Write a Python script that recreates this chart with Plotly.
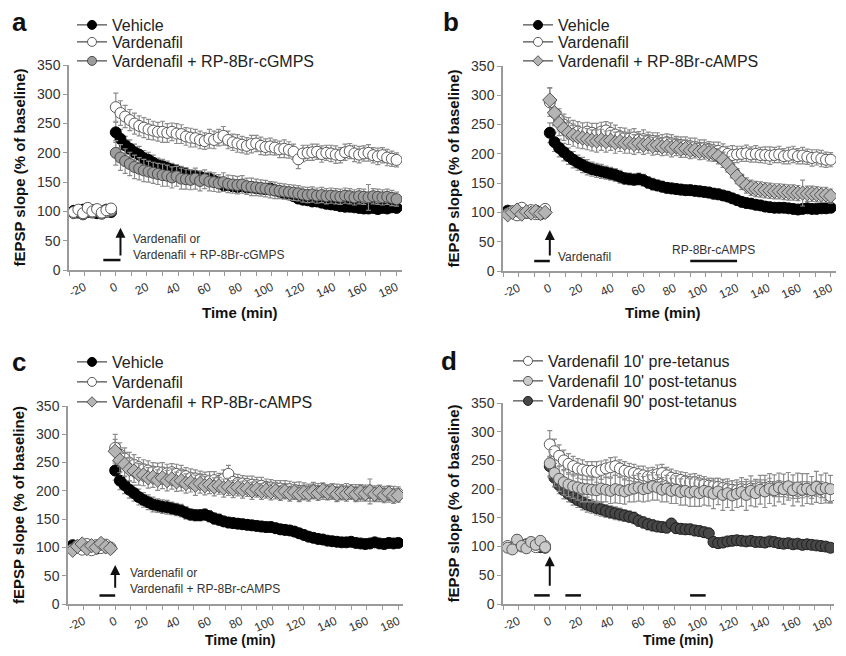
import plotly.graph_objects as go

# ---------------- data ----------------
# time points (min): 9 baseline samples, then every 3 min after tetanus
T = list(range(-27, 0, 3)) + list(range(0, 181, 3))
X_TICKS = list(range(-30, 181, 10))
X_LABELS = ["" if v % 20 else str(v) for v in X_TICKS]
Y_TICKS = [0, 50, 100, 150, 200, 250, 300, 350]

# Panel a
A_vehicle = [101, 98, 103, 99, 102, 97, 100, 103, 99,
             235, 224, 213, 207, 201, 197, 191, 188, 183, 179,
             177, 174, 171, 169, 166, 164, 161, 160, 159, 156,
             156, 152, 149, 145, 145, 143, 142, 143, 141, 141,
             140, 139, 138, 139, 136, 134, 131, 129, 126, 122,
             120, 119, 117, 117, 115, 113, 112, 111, 109, 108,
             108, 107, 106, 105, 105, 106, 104, 106, 105, 107,
             106]
A_vard = [99, 103, 97, 106, 100, 104, 98, 102, 105,
          278, 268, 262, 256, 250, 246, 243, 240, 238, 236,
          236, 234, 236, 233, 232, 228, 226, 225, 222, 220,
          224, 222, 226, 229, 222, 218, 216, 214, 212, 215,
          216, 212, 210, 211, 209, 206, 207, 205, 202, 189,
          199, 200, 201, 202, 198, 200, 199, 197, 196, 201,
          203, 199, 197, 199, 200, 196, 194, 196, 192, 190,
          188]
A_cgmps = [97, 101, 95, 100, 98, 102, 96, 99, 101,
           200, 192, 186, 181, 176, 173, 170, 168, 166, 164,
           162, 161, 158, 160, 156, 155, 154, 156, 152, 155,
           151, 150, 148, 150, 147, 146, 145, 146, 143, 142,
           141, 140, 139, 137, 136, 135, 134, 133, 132, 131,
           129, 128, 129, 127, 128, 126, 127, 126, 125, 127,
           126, 124, 126, 125, 124, 126, 125, 124, 125, 123,
           121]

# Panel b
B_vehicle = [103, 100, 98, 102, 101, 99, 103, 97, 100,
             236, 220, 210, 203, 196, 190, 185, 181, 177, 174,
             172, 170, 168, 166, 164, 161, 158, 157, 156, 157,
             155, 151, 148, 146, 144, 142, 141, 140, 139, 138,
             138, 137, 136, 135, 134, 132, 131, 129, 127, 124,
             121, 118, 116, 115, 113, 112, 110, 109, 108, 108,
             108, 107, 106, 105, 106, 107, 106, 106, 107, 107,
             108]
B_vard = [98, 102, 95, 108, 99, 104, 97, 100, 106,
          288, 270, 258, 250, 244, 240, 238, 236, 238, 236,
          234, 238, 240, 236, 233, 230, 228, 226, 228, 224,
          225, 222, 222, 220, 218, 220, 218, 216, 215, 214,
          213, 212, 210, 210, 208, 206, 205, 203, 200, 198,
          199, 200, 201, 199, 200, 198, 198, 197, 198, 199,
          196, 197, 199, 196, 197, 195, 193, 194, 192, 190,
          190]
B_camps = [96, 100, 104, 97, 101, 99, 102, 98, 100,
           292, 270, 252, 243, 236, 232, 229, 227, 225, 223,
           222, 224, 221, 223, 219, 221, 218, 219, 216, 218,
           215, 217, 213, 215, 212, 213, 210, 212, 208, 209,
           206, 207, 204, 205, 202, 200, 196, 190, 182, 172,
           162, 152, 146, 142, 140, 139, 138, 137, 136, 136,
           135, 134, 134, 133, 133, 132, 132, 131, 130, 130,
           128]

# Panel c
C_vehicle = [104, 100, 99, 103, 101, 98, 102, 100, 99,
             236, 218, 210, 202, 196, 189, 184, 180, 176, 174,
             172, 171, 169, 167, 165, 161, 158, 157, 157, 158,
             155, 151, 149, 146, 144, 143, 142, 141, 140, 139,
             138, 137, 136, 136, 134, 132, 131, 130, 128, 125,
             122, 119, 117, 115, 114, 112, 111, 110, 109, 109,
             110, 108, 107, 106, 107, 109, 107, 106, 108, 107,
             108]
C_vard = [97, 103, 96, 106, 95, 104, 99, 105, 100,
          276, 264, 257, 250, 246, 242, 238, 236, 234, 233,
          232, 231, 233, 230, 229, 226, 223, 222, 220, 219,
          218, 219, 217, 221, 230, 216, 214, 213, 212, 211,
          210, 209, 207, 206, 205, 204, 203, 203, 202, 200,
          200, 199, 201, 200, 199, 198, 199, 197, 198, 199,
          198, 197, 196, 197, 196, 196, 195, 195, 194, 195,
          195]
C_camps = [95, 102, 106, 98, 103, 100, 107, 101, 98,
           270, 254, 247, 238, 235, 229, 228, 223, 224, 219,
           223, 218, 221, 216, 218, 213, 215, 210, 213, 209,
           211, 207, 209, 205, 207, 203, 206, 202, 204, 200,
           203, 199, 201, 198, 200, 196, 199, 195, 198, 194,
           197, 195, 199, 196, 201, 197, 199, 194, 197, 195,
           198, 194, 198, 195, 199, 194, 197, 192, 196, 191,
           192]

# Panel d
D_pre10 = [101, 98, 104, 100, 103, 106, 99, 104, 101,
           278, 266, 258, 250, 244, 240, 236, 234, 232, 232,
           230, 233, 236, 238, 240, 236, 232, 230, 228, 226,
           224, 222, 224, 226, 228, 224, 220, 218, 216, 214,
           212, 212, 210, 208, 206, 205, 204, 202, 200, 199,
           198, 200, 199, 201, 200, 203, 202, 204, 200, 201,
           200, 199, 198, 197, 199, 200, 198, 201, 199, 194,
           188]
D_post10 = [98, 95, 112, 101, 97, 108, 103, 110, 99,
            245, 228, 218, 212, 208, 205, 203, 201, 200, 199,
            198, 201, 199, 197, 200, 198, 196, 199, 201, 203,
            200, 202, 205, 203, 199, 201, 197, 199, 195, 197,
            194, 196, 193, 197, 195, 192, 196, 190, 193, 189,
            192, 195, 190, 197, 193, 199, 196, 201, 198, 203,
            200, 205, 198, 203, 199, 201, 198, 204, 200, 202,
            200]
D_post90 = [100, 97, 103, 101, 104, 106, 102, 99, 98,
            240, 220, 207, 198, 192, 186, 181, 177, 173, 170,
            167, 165, 162, 160, 158, 156, 154, 152, 150, 145,
            142, 139, 137, 135, 134, 133, 140, 132, 131, 130,
            130, 128, 127, 125, 123, 108, 106, 107, 109, 110,
            111, 110, 109, 110, 108, 108, 107, 109, 108, 106,
            105, 106, 104, 105, 103, 104, 103, 102, 101, 100,
            98]

# SEM error bars
VEH_ERR = [6, 5, 7, 5, 6, 8, 5, 6, 7,
           17, 16, 15, 15, 14, 14, 13, 13, 13, 12,
           12, 12, 11, 11, 11, 11, 10, 10, 10, 10,
           10, 10, 10, 9, 9, 9, 9, 9, 9, 9,
           9, 9, 9, 9, 9, 9, 9, 8, 8, 8,
           8, 8, 8, 8, 8, 8, 8, 8, 7, 7,
           7, 7, 7, 7, 7, 7, 7, 7, 7, 7,
           7]
VARD_ERR = [6, 7, 5, 8, 6, 5, 7, 6, 8,
            24, 21, 19, 18, 18, 17, 17, 17, 16, 16,
            18, 16, 15, 17, 16, 15, 16, 15, 15, 14,
            16, 15, 14, 16, 15, 14, 15, 14, 14, 15,
            14, 15, 14, 14, 13, 14, 15, 14, 13, 16,
            14, 13, 14, 13, 14, 13, 14, 15, 13, 14,
            13, 14, 14, 13, 14, 13, 14, 13, 14, 13,
            12]
DRUG_ERR = [7, 6, 8, 6, 7, 5, 6, 8, 6,
            21, 22, 21, 20, 20, 19, 19, 18, 18, 18,
            19, 18, 18, 17, 18, 17, 17, 18, 17, 16,
            16, 16, 15, 16, 15, 15, 15, 15, 14, 15,
            14, 14, 14, 14, 14, 13, 13, 13, 13, 13,
            13, 13, 13, 13, 13, 13, 13, 13, 13, 13,
            13, 13, 13, 13, 22, 13, 13, 13, 13, 13,
            12]
POST10_ERR = [7, 8, 9, 6, 8, 7, 9, 8, 7,
              24, 23, 22, 22, 21, 21, 22, 23, 22, 21,
              22, 23, 21, 22, 24, 23, 22, 21, 23, 24,
              22, 23, 24, 22, 21, 23, 22, 24, 23, 25,
              24, 26, 23, 25, 24, 26, 23, 27, 25, 26,
              24, 25, 27, 26, 24, 25, 28, 26, 27, 25,
              26, 24, 27, 25, 28, 26, 24, 27, 25, 26,
              24]

# ---------------- styles ----------------
GRAY_AX = "#9a9a9a"
ERR_COL = "#8c8c8c"
FONT = "Liberation Sans"

STY = {
    "veh": dict(symbol="circle", color="#000000", line="#000000"),
    "vard": dict(symbol="circle", color="#ffffff", line="#5a5a5a"),
    "cg": dict(symbol="circle", color="#9c9c9c", line="#4a4a4a"),
    "camp": dict(symbol="diamond", color="#b4b4b4", line="#555555"),
    "pre": dict(symbol="circle", color="#ffffff", line="#5a5a5a"),
    "p10": dict(symbol="circle", color="#cacaca", line="#5a5a5a"),
    "p90": dict(symbol="circle", color="#474747", line="#1e1e1e"),
}

fig = go.Figure()

# page offset (body margin) and figure size, so the figure fits the window
OFF = 8
W, H = 846 - 2 * OFF, 656 - 2 * OFF


def px_x(p):
    return min(1.0, max(0.0, (p - OFF) / W))


def px_y(p):
    return min(1.0, max(0.0, 1 - (p - OFF) / H))


panels = {
    # k: (x_px_domain, y_px_domain(top,bottom), x_range)  -- in window pixels
    1: ((69, 402), (65, 270), (-30, 183.5)),
    2: ((503, 836), (66, 271), (-30, 183.4)),
    3: ((68, 403), (406, 604), (-30, 183)),
    4: ((503, 834), (403, 604), (-30, 182.3)),
}


def ax_names(k):
    return ("x" if k == 1 else f"x{k}"), ("y" if k == 1 else f"y{k}")


def data_trace(k, y, err, sty, size=11):
    s = STY[sty]
    xa, ya = ax_names(k)
    fig.add_trace(go.Scatter(
        x=T, y=y, mode="markers", showlegend=False, xaxis=xa, yaxis=ya,
        marker=dict(symbol=s["symbol"], size=size, color=s["color"],
                    line=dict(color=s["line"], width=1)),
        error_y=dict(type="data", array=err, color=ERR_COL, thickness=1.2, width=2.5),
    ))


# legend entries: (panel, name, style, x of legend box, centre y of entry) in window px
LEGEND_ENTRIES = [
    (1, "Vehicle", "veh", 72, 22), (1, "Vardenafil", "vard", 72, 42),
    (1, "Vardenafil + RP-8Br-cGMPS", "cg", 72, 61),
    (2, "Vehicle", "veh", 518, 22), (2, "Vardenafil", "vard", 518, 42),
    (2, "Vardenafil + RP-8Br-cAMPS", "camp", 518, 61),
    (3, "Vehicle", "veh", 72, 362), (3, "Vardenafil", "vard", 72, 382),
    (3, "Vardenafil + RP-8Br-cAMPS", "camp", 72, 402),
    (4, "Vardenafil 10' pre-tetanus", "pre", 508, 361),
    (4, "Vardenafil 10' post-tetanus", "p10", 508, 381),
    (4, "Vardenafil 90' post-tetanus", "p90", 508, 401),
]

leg_common = dict(xanchor="left", yanchor="top", bgcolor="rgba(0,0,0,0)",
                  font=dict(size=16, color="#222222", family=FONT),
                  itemwidth=30, tracegroupgap=0, itemclick=False, itemdoubleclick=False)
legend_layout = {}
for i, (k, name, sty, lx, cy) in enumerate(LEGEND_ENTRIES):
    lname = "legend" if i == 0 else f"legend{i + 1}"
    s = STY[sty]
    xa, ya = ax_names(k)
    fig.add_trace(go.Scatter(
        x=[None], y=[None], mode="lines+markers", name=name, legend=lname,
        xaxis=xa, yaxis=ya, line=dict(color="#222222", width=1),
        marker=dict(symbol=s["symbol"], size=9 if s["symbol"] == "circle" else 8,
                    color=s["color"], line=dict(color=s["line"], width=1)),
    ))
    legend_layout[lname] = dict(x=px_x(lx), y=px_y(cy - 17), **leg_common)

# data (drawing order)
data_trace(1, A_vehicle, VEH_ERR, "veh")
data_trace(1, A_cgmps, DRUG_ERR, "cg")
data_trace(1, A_vard, VARD_ERR, "vard")
data_trace(2, B_vehicle, VEH_ERR, "veh")
data_trace(2, B_vard, VARD_ERR, "vard")
data_trace(2, B_camps, DRUG_ERR, "camp")
data_trace(3, C_vehicle, VEH_ERR, "veh")
data_trace(3, C_vard, VARD_ERR, "vard")
data_trace(3, C_camps, DRUG_ERR, "camp")
data_trace(4, D_post90, VEH_ERR, "p90")
data_trace(4, D_pre10, VARD_ERR, "pre")
data_trace(4, D_post10, POST10_ERR, "p10")

layout = dict(
    width=W, height=H, margin=dict(l=0, r=0, t=0, b=0, pad=0, autoexpand=False),
    paper_bgcolor="white", plot_bgcolor="white",
    font=dict(family=FONT, color="#222222"),
    **legend_layout,
)

for k, ((x0, x1), (yt, yb), xr) in panels.items():
    xs = "xaxis" if k == 1 else f"xaxis{k}"
    ys = "yaxis" if k == 1 else f"yaxis{k}"
    xa, ya = ax_names(k)
    layout[xs] = dict(
        domain=[px_x(x0), px_x(x1)], range=list(xr), anchor=ya, automargin=False,
        tickmode="array", tickvals=X_TICKS, ticktext=X_LABELS, tickangle=-25,
        ticks="outside", ticklen=4, tickcolor=GRAY_AX, tickwidth=1,
        ticklabeloverflow="allow",
        showline=True, linecolor=GRAY_AX, linewidth=1.5, showgrid=False, zeroline=False,
        tickfont=dict(size=12, color="#333333", family=FONT),
    )
    layout[ys] = dict(
        domain=[px_y(yb), px_y(yt)], range=[0, 350], anchor=xa, automargin=False,
        tickvals=Y_TICKS, ticks="outside", ticklen=4, tickcolor=GRAY_AX, tickwidth=1,
        showline=True, linecolor=GRAY_AX, linewidth=1.5, showgrid=False, zeroline=False,
        tickfont=dict(size=14, color="#333333", family=FONT),
        title=dict(text="fEPSP slope (% of baseline)", standoff=8,
                   font=dict(size=15, color="#111111", family=FONT, weight="bold")),
    )

fig.update_layout(**layout)

# x-axis titles
for px, py, fs in [(240, 312, 15), (663, 312, 15), (240, 640, 14), (678, 640, 14)]:
    fig.add_annotation(x=px_x(px), y=px_y(py), xref="paper", yref="paper",
                       xanchor="center", yanchor="middle", text="<b>Time (min)</b>",
                       showarrow=False, font=dict(size=fs, color="#111111", family=FONT))

# treatment bars
bars = [(1, -8, 3, 17), (2, -10, 0, 17), (2, 90, 120, 17), (3, -10, 0, 15),
        (4, -10, 0, 15), (4, 10, 20, 15), (4, 90, 100, 15)]
for k, a, b, yv in bars:
    xa, ya = ax_names(k)
    fig.add_shape(type="line", x0=a, x1=b, y0=yv, y1=yv, xref=xa, yref=ya,
                  line=dict(color="#111111", width=2.5))

# arrows (tetanus)
arrows = [(1, 3, 72, 22), (2, 0, 70, 24), (3, 0, 69, 26), (4, 0, 83, 29)]
for k, xv, yh, yt_ in arrows:
    xa, ya = ax_names(k)
    fig.add_annotation(x=xv, y=yh, ax=xv, ay=yt_, xref=xa, yref=ya, axref=xa, ayref=ya,
                       text="", showarrow=True, arrowhead=2, arrowsize=1, arrowwidth=2,
                       arrowcolor="#111111")

# text labels
small = dict(size=12, color="#333333", family=FONT)
fig.add_annotation(x=10, y=40, xref="x", yref="y", xanchor="left", yanchor="middle",
                   text="Vardenafil or<br>Vardenafil + RP-8Br-cGMPS", showarrow=False,
                   align="left", font=small)
fig.add_annotation(x=4, y=24, xref="x2", yref="y2", xanchor="left", yanchor="middle",
                   text="Vardenafil", showarrow=False, font=small)
fig.add_annotation(x=105, y=36, xref="x2", yref="y2", xanchor="center", yanchor="middle",
                   text="RP-8Br-cAMPS", showarrow=False, font=small)
fig.add_annotation(x=8, y=40, xref="x3", yref="y3", xanchor="left", yanchor="middle",
                   text="Vardenafil or<br>Vardenafil + RP-8Br-cAMPS", showarrow=False,
                   align="left", font=small)

# panel letters
for letter, px, py in [("a", 19, 22), ("b", 451, 22), ("c", 19, 362), ("d", 449, 361)]:
    fig.add_annotation(x=px_x(px), y=px_y(py), xref="paper", yref="paper",
                       xanchor="center", yanchor="middle", text=f"<b>{letter}</b>",
                       showarrow=False, font=dict(size=26, color="#111111", family=FONT))

fig.write_html("out.html")
